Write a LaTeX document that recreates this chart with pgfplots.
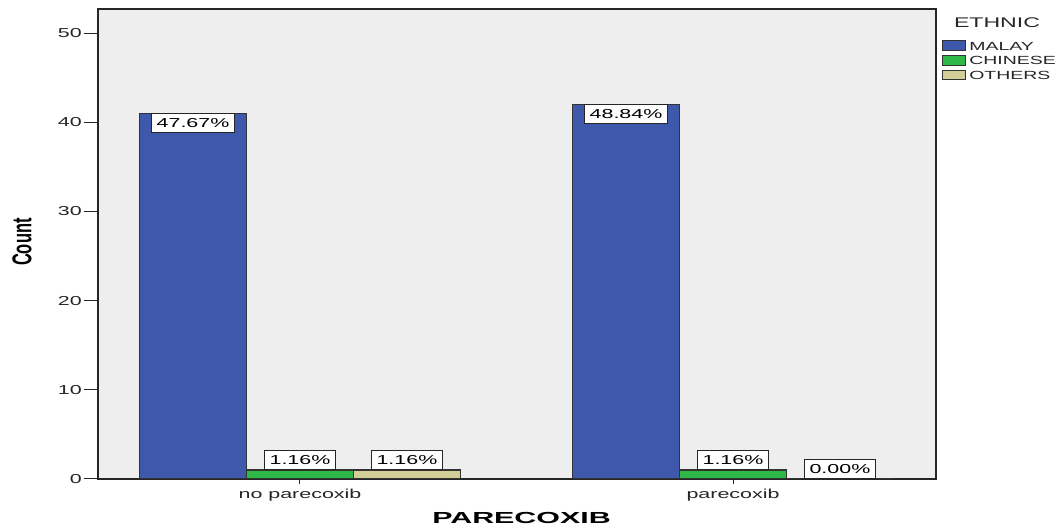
\documentclass[border=0pt]{standalone}
\usepackage{fontspec}
\setmainfont{Liberation Sans}
\usepackage{graphicx}
\usepackage{pgfplots}
\pgfplotsset{compat=1.18}
\definecolor{cMalay}{HTML}{3E58AC}
\definecolor{cChinese}{HTML}{2EB848}
\definecolor{cOthers}{HTML}{D3CE97}
\definecolor{plotbg}{HTML}{EEEEEE}
\newcommand\sx[1]{\scalebox{1.65}[1]{#1}}
\begin{document}
\begin{tikzpicture}
\begin{axis}[
  scale only axis, width=838pt, height=470pt,
  xmin=-0.4665, xmax=1.4688, ymin=0, ymax=52.7,
  axis background/.style={fill=plotbg},
  axis line style={black!85, line width=1.3pt},
  ybar, bar width=0.247,
  xtick={0,1}, xticklabels={\sx{no parecoxib},\sx{parecoxib}},
  ytick={0,10,20,30,40,50},
  yticklabels={\sx{0},\sx{10},\sx{20},\sx{30},\sx{40},\sx{50}},
  xtick pos=bottom, ytick pos=left,
  tick align=outside, major tick length=14pt,
  xtick style={/pgfplots/major tick length=5pt},
  tick style={black!85, line width=1pt},
  ticklabel style={font=\fontsize{13}{13}\selectfont, text=black!85},
  yticklabel style={inner sep=2pt},
  xticklabel style={inner sep=1pt, yshift=5pt},
  every axis y label/.style={at={(axis description cs:-0.0907,0.504)}, rotate=90, anchor=center},
  every axis x label/.style={at={(axis description cs:0.5054,-0.083)}, anchor=center},
  ylabel={\fontsize{16.5}{16.5}\selectfont\bfseries\scalebox{1}[1.65]{Count}},
  xlabel={\fontsize{16}{16}\selectfont\bfseries\scalebox{1.9}[1]{PARECOXIB}},
  legend image code/.code={\draw[#1, line width=1.1pt] (0pt,-4.8pt) rectangle (23pt,4.8pt);},
  legend style={at={(1.00716,0.934)}, anchor=north west, draw=none, fill=none,
    inner sep=0pt, column sep=3pt, row sep=4pt,
    nodes={inner sep=0pt, anchor=west, text height=9pt, text depth=0pt, font=\fontsize{11.8}{11.8}\selectfont, text=black!85}},
  point meta=explicit symbolic,
  nodes near coords={\sx{\pgfplotspointmeta}},
  nodes near coords style={fill=white, draw=black!85, line width=0.9pt, font=\fontsize{13}{13}\selectfont,
    text height=9pt, text depth=0pt, inner xsep=5.5pt, inner ysep=5pt},
]
\addplot[fill=cMalay, draw=black!80, line width=1.2pt, bar shift=-0.247,
  nodes near coords style={anchor=north}]
  coordinates {(0,41) [47.67\%] (1,42) [48.84\%]};
\addlegendentry{\sx{MALAY}}
\addplot[fill=cChinese, draw=black!80, line width=1.2pt, bar shift=0,
  nodes near coords style={anchor=south}]
  coordinates {(0,1) [1.16\%] (1,1) [1.16\%]};
\addlegendentry{\sx{CHINESE}}
\addplot[fill=cOthers, draw=black!80, line width=1.2pt, bar shift=0.247,
  nodes near coords style={anchor=south}]
  coordinates {(0,1) [1.16\%] (1,0) [0.00\%]};
\addlegendentry{\sx{OTHERS}}
\end{axis}
\node[font=\fontsize{14}{14}\selectfont, text=black!85] at ([xshift=61pt,yshift=-14pt]current axis.north east) {\sx{ETHNIC}};
\pgfresetboundingbox
\path[use as bounding box] ([xshift=-98pt,yshift=-51pt]current axis.south west) rectangle ([xshift=127pt,yshift=9pt]current axis.north east);
\end{tikzpicture}
\end{document}
